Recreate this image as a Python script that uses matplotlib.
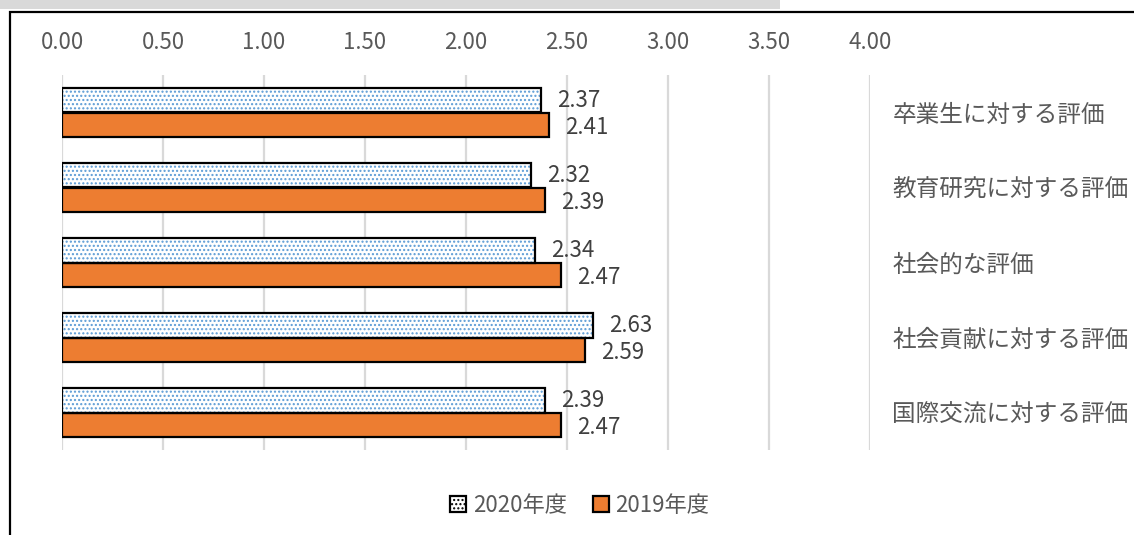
import numpy as np
import matplotlib
matplotlib.use('Agg')
from matplotlib import pyplot as plt
from matplotlib.patches import Rectangle, Patch

plt.rcParams['font.family'] = ['Noto Sans CJK JP', 'DejaVu Sans']

# data
categories = ['卒業生に対する評価', '教育研究に対する評価', '社会的な評価',
              '社会貢献に対する評価', '国際交流に対する評価']
vals_2020 = [2.37, 2.32, 2.34, 2.63, 2.39]
vals_2019 = [2.41, 2.39, 2.47, 2.59, 2.47]
series_names = ['2020年度', '2019年度']
xticks = [0, 0.5, 1.0, 1.5, 2.0, 2.5, 3.0, 3.5, 4.0]

W, H = 1134, 535
fig = plt.figure(figsize=(W / 100, H / 100), dpi=100)

# outer frame + cropped gray strip at the very top
fig.patches.append(Rectangle((0, 1 - 9 / H), 780 / W, 9 / H, transform=fig.transFigure,
                             facecolor='#d9d9d9', edgecolor='none'))
fig.patches.append(Rectangle((10 / W, -0.01), 1.0, 1 - 12 / H + 0.01, transform=fig.transFigure,
                             facecolor='none', edgecolor='black', linewidth=1.6))

ax = fig.add_axes([62 / W, 1 - 450 / H, (870 - 62) / W, (450 - 75) / H])

y = np.arange(len(categories))
bh = 0.333
orange = '#ED7D31'
fs = 16

# 2020: white with blue dots, black outline
ax.barh(y - bh / 2, vals_2020, height=bh, color='white', edgecolor='#5B9BD5',
        hatch='....', linewidth=0, zorder=3)
ax.barh(y - bh / 2, vals_2020, height=bh, color='none', edgecolor='black',
        linewidth=1.6, zorder=4)
# 2019: orange
ax.barh(y + bh / 2, vals_2019, height=bh, color=orange, edgecolor='black',
        linewidth=1.6, zorder=3)

for i in range(len(categories)):
    ax.text(vals_2020[i] + 0.08, y[i] - bh / 2, '%.2f' % vals_2020[i], va='center',
            ha='left', fontsize=fs, color='#404040')
    ax.text(vals_2019[i] + 0.08, y[i] + bh / 2 + 0.03, '%.2f' % vals_2019[i], va='center',
            ha='left', fontsize=fs, color='#404040')

ax.set_xlim(0, 4.0)
ax.set_ylim(len(categories) - 0.5, -0.5)
ax.set_xticks(xticks)
ax.set_xticklabels(['%.2f' % t for t in xticks], fontsize=fs, color='#595959')
ax.xaxis.tick_top()
ax.tick_params(axis='x', length=0, pad=15)
ax.set_yticks(y)
ax.set_yticklabels(categories, fontsize=17, color='#595959')
ax.yaxis.tick_right()
ax.tick_params(axis='y', length=0, pad=16)
for lab in ax.get_yticklabels():
    lab.set_horizontalalignment('left')

ax.grid(axis='x', color='#d9d9d9', linewidth=1.6, zorder=0)
ax.set_axisbelow(True)
for s in ax.spines.values():
    s.set_visible(False)

handles = [Patch(facecolor='white', edgecolor='black', hatch='....', linewidth=1.6),
           Patch(facecolor=orange, edgecolor='black', linewidth=1.6)]
fig.legend(handles, series_names, loc='center', bbox_to_anchor=(580 / W, 1 - 505 / H),
           ncol=2, frameon=False, fontsize=fs, handlelength=0.7, handleheight=0.7,
           handletextpad=0.3, columnspacing=1.2, labelcolor='#595959')

fig.savefig('out.png', dpi=100)
